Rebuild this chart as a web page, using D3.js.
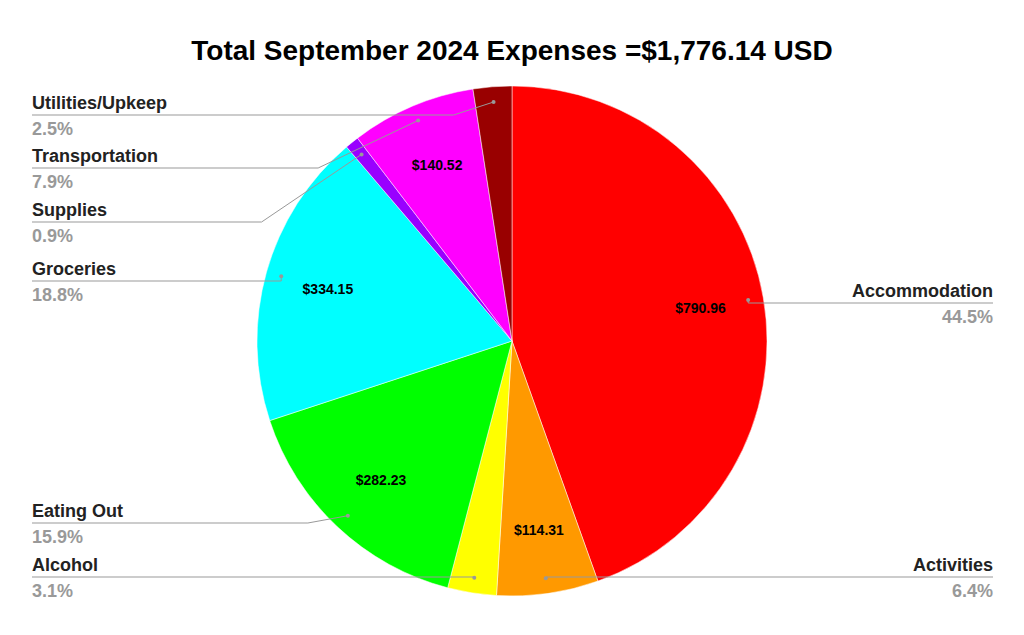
<!DOCTYPE html><html><head><meta charset="utf-8">
<script src="https://cdn.jsdelivr.net/npm/d3@7"></script>
<style>body{margin:0;background:#fff}text{font-family:"Liberation Sans",Arial,sans-serif}</style></head><body>
<svg id="c" width="1024" height="635"></svg>
<script>
const categories=["Accommodation","Activities","Alcohol","Eating Out","Groceries","Supplies","Transportation","Utilities/Upkeep"];
const values=[790.96,114.31,54.90,282.23,334.15,15.60,140.52,43.47];
const percentLabels=["44.5%","6.4%","3.1%","15.9%","18.8%","0.9%","7.9%","2.5%"];
const colors=["#ff0000","#ff9900","#ffff00","#00ff00","#00ffff","#9900ff","#ff00ff","#990000"];
const labelSide=["r","r","l","l","l","l","l","l"];
const labelY=[303,577,577,523,281,222,168,115];
const svg=d3.select("#c");
const cx=512,cy=341,R=255;
svg.append("text").attr("x",512).attr("y",60).attr("text-anchor","middle").attr("font-size",28).attr("font-weight","bold").text("Total September 2024 Expenses =$1,776.14 USD");
const pie=d3.pie().sort(null).value(d=>d)(values);
const arc=d3.arc().innerRadius(0).outerRadius(R);
const g=svg.append("g").attr("transform",`translate(${cx},${cy})`);
g.selectAll("path").data(pie).join("path").attr("d",arc).attr("fill",(d,i)=>colors[i]).attr("stroke","#fff").attr("stroke-width",0.5);
const inner=d3.arc().innerRadius(R*0.75).outerRadius(R*0.75);
pie.forEach((d,i)=>{
  if(values[i]/d3.sum(values)>0.05){
    const [x,y]=inner.centroid(d);
    g.append("text").attr("x",x).attr("y",y+5).attr("text-anchor","middle").attr("font-size",14).attr("font-weight","bold").text("$"+values[i].toFixed(2));
  }
});
const pt=d3.arc().innerRadius(R*0.94).outerRadius(R*0.94);
pie.forEach((d,i)=>{
  const [px,py]=pt.centroid(d);const x=px+cx,y=py+cy;const ly=labelY[i];
  const right=labelSide[i]==="r";
  const endX=right?993:32;
  let bendX=right?Math.max(x+50,x):x-(Math.abs(ly-y)>20?100:40);
  if(Math.abs(ly-y)<5)bendX=x;
  svg.append("polyline").attr("points",`${x},${y} ${bendX},${ly} ${endX},${ly}`).attr("fill","none").attr("stroke","#999").attr("stroke-width",1);
  svg.append("circle").attr("cx",x).attr("cy",y).attr("r",2).attr("fill","#999");
  const ta=right?"end":"start";
  svg.append("text").attr("x",endX).attr("y",ly-6).attr("text-anchor",ta).attr("font-size",18).attr("font-weight","bold").attr("fill","#222").text(categories[i]);
  svg.append("text").attr("x",endX).attr("y",ly+20).attr("text-anchor",ta).attr("font-size",18).attr("font-weight","bold").attr("fill","#999").text(percentLabels[i]);
});
</script></body></html>
